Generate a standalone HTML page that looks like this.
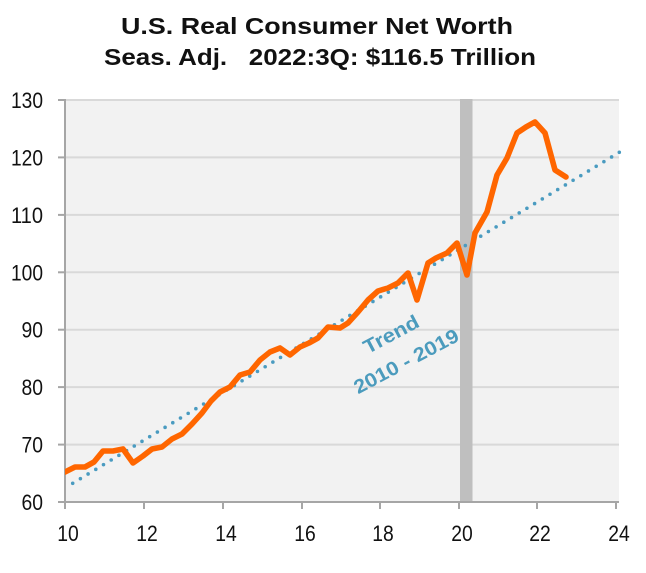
<!DOCTYPE html>
<html><head><meta charset="utf-8"><style>
html,body{margin:0;padding:0;background:#fff;}
svg{display:block;}
text{font-family:"Liberation Sans",Arial,sans-serif;}
</style></head><body>
<svg width="646" height="573" viewBox="0 0 646 573" xmlns="http://www.w3.org/2000/svg">
<rect x="0" y="0" width="646" height="573" fill="#fff"/>
<!-- title -->
<text x="317" y="34" font-size="23" font-weight="bold" text-anchor="middle" fill="#111" textLength="392" lengthAdjust="spacingAndGlyphs">U.S. Real Consumer Net Worth</text>
<text x="320" y="65" font-size="23" font-weight="bold" text-anchor="middle" fill="#111" textLength="432" lengthAdjust="spacingAndGlyphs" style="white-space:pre">Seas. Adj.   2022:3Q: $116.5 Trillion</text>
<!-- plot area -->
<rect x="65" y="99" width="554" height="403" fill="#f2f2f2"/>
<g stroke="#d9d9d9" stroke-width="2">
<line x1="65" y1="100" x2="619" y2="100"/>
<line x1="65" y1="157.4" x2="619" y2="157.4"/>
<line x1="65" y1="214.9" x2="619" y2="214.9"/>
<line x1="65" y1="272.3" x2="619" y2="272.3"/>
<line x1="65" y1="329.7" x2="619" y2="329.7"/>
<line x1="65" y1="387.1" x2="619" y2="387.1"/>
<line x1="65" y1="444.6" x2="619" y2="444.6"/>
</g>
<!-- recession bar -->
<rect x="460" y="99" width="12.5" height="403" fill="#bfbfbf"/>
<!-- axes -->
<g stroke="#a6a6a6" stroke-width="2">
<line x1="65" y1="99" x2="65" y2="503"/>
<line x1="64" y1="502" x2="619" y2="502"/>
<line x1="58" y1="100" x2="65" y2="100"/>
<line x1="58" y1="157.4" x2="65" y2="157.4"/>
<line x1="58" y1="214.9" x2="65" y2="214.9"/>
<line x1="58" y1="272.3" x2="65" y2="272.3"/>
<line x1="58" y1="329.7" x2="65" y2="329.7"/>
<line x1="58" y1="387.1" x2="65" y2="387.1"/>
<line x1="58" y1="444.6" x2="65" y2="444.6"/>
<line x1="58" y1="502" x2="65" y2="502"/>
<line x1="65" y1="502" x2="65" y2="509"/>
<line x1="144" y1="502" x2="144" y2="509"/>
<line x1="223" y1="502" x2="223" y2="509"/>
<line x1="302" y1="502" x2="302" y2="509"/>
<line x1="380" y1="502" x2="380" y2="509"/>
<line x1="459" y1="502" x2="459" y2="509"/>
<line x1="537" y1="502" x2="537" y2="509"/>
<line x1="616" y1="502" x2="616" y2="509"/>
</g>
<!-- y labels -->
<g font-size="22" fill="#111" text-anchor="end">
<text x="43" y="108" textLength="32" lengthAdjust="spacingAndGlyphs">130</text>
<text x="43" y="165.4" textLength="32" lengthAdjust="spacingAndGlyphs">120</text>
<text x="43" y="222.9" textLength="32" lengthAdjust="spacingAndGlyphs">110</text>
<text x="43" y="280.3" textLength="32" lengthAdjust="spacingAndGlyphs">100</text>
<text x="43" y="337.7" textLength="21.5" lengthAdjust="spacingAndGlyphs">90</text>
<text x="43" y="395.1" textLength="21.5" lengthAdjust="spacingAndGlyphs">80</text>
<text x="43" y="452.6" textLength="21.5" lengthAdjust="spacingAndGlyphs">70</text>
<text x="43" y="510" textLength="21.5" lengthAdjust="spacingAndGlyphs">60</text>
</g>
<!-- x labels -->
<g font-size="22" fill="#111" text-anchor="middle">
<text x="68" y="541" textLength="21.5" lengthAdjust="spacingAndGlyphs">10</text>
<text x="147" y="541" textLength="21.5" lengthAdjust="spacingAndGlyphs">12</text>
<text x="226" y="541" textLength="21.5" lengthAdjust="spacingAndGlyphs">14</text>
<text x="305" y="541" textLength="21.5" lengthAdjust="spacingAndGlyphs">16</text>
<text x="383" y="541" textLength="21.5" lengthAdjust="spacingAndGlyphs">18</text>
<text x="462" y="541" textLength="21.5" lengthAdjust="spacingAndGlyphs">20</text>
<text x="540" y="541" textLength="21.5" lengthAdjust="spacingAndGlyphs">22</text>
<text x="619" y="541" textLength="21.5" lengthAdjust="spacingAndGlyphs">24</text>
</g>
<!-- trend dotted line -->
<line x1="72.7" y1="483.3" x2="619.3" y2="152.3" stroke="#4a9bc0" stroke-width="3.6" stroke-linecap="round" stroke-dasharray="0 9"/>
<!-- orange series -->
<clipPath id="cp"><rect x="65" y="95" width="560" height="410"/></clipPath>
<polyline clip-path="url(#cp)" fill="none" stroke="#ff6600" stroke-width="5.6" stroke-linejoin="round" stroke-linecap="round"
points="62,473 65,472 75,467 85,467 94,462 103,451 113,451 123,449 133,463 143,456 152,449 162,447 172,439 182,434 192,424 202,413 211,401 220,392 230,387 240,375 250,372 260,360 270,352 280,348 290,355 300,347 309,343 318,338 328,327 340,328 348,323 358,312 368,300 378,291 388,288 398,283 408,273 417,300 428,263 436,258 447,253 457,243 467,275 475,233 487,212 497,175 507,158 517,133 526,127 535,122 545,133 555,170 566,177"/>
<!-- trend label -->
<g font-size="19.5" font-weight="bold" fill="#4b9bbd" text-anchor="middle">
<text x="391" y="341" transform="rotate(-28 391 334)" textLength="60" lengthAdjust="spacingAndGlyphs">Trend</text>
<text x="406" y="368" transform="rotate(-28 406 361)" textLength="116" lengthAdjust="spacingAndGlyphs">2010 - 2019</text>
</g>
</svg>
</body></html>
